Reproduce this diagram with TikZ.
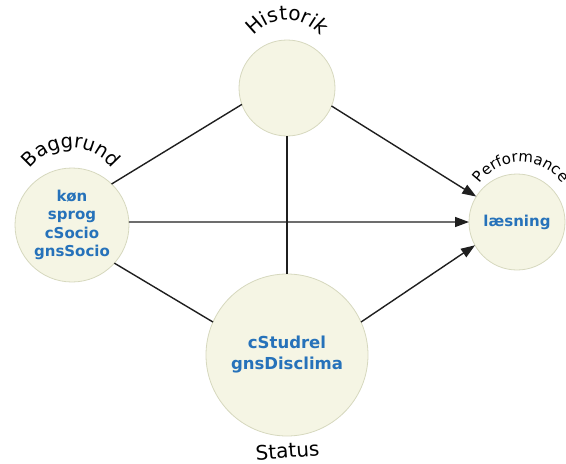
\documentclass[tikz,border=0pt]{standalone}
\usepackage{fontspec}
\setmainfont{DejaVu Sans}
\usetikzlibrary{arrows.meta,decorations.text,calc}
\definecolor{circfill}{RGB}{245,245,228}
\definecolor{circline}{RGB}{214,216,190}
\definecolor{txtblue}{RGB}{38,114,186}
\begin{document}
\begin{tikzpicture}[x=1pt,y=1pt,
  blob/.style={circle, fill=circfill, draw=circline, line width=0.8pt, inner sep=0pt, outer sep=0pt, align=center, text=txtblue, font=\bfseries\fontsize{15}{18.5}\selectfont},
  link/.style={draw=black!88, line width=1.4pt},
  arr/.style={link, -{Triangle[length=14pt,width=10pt]}},
  arclabel/.style={decorate, decoration={text along path, text align=center, text={#1}}}
  ]
\useasboundingbox (0,0) rectangle (566,-464);
\node[blob, minimum size=114pt] (B) at (72,-225) {køn\\sprog\\cSocio\\gnsSocio};
\node[blob, minimum size=96pt] (H) at (287,-88) {};
\node[blob, minimum size=96pt] (P) at (517,-222) {læsning};
\node[blob, minimum size=162pt, font=\bfseries\fontsize{16.5}{21}\selectfont] (S) at (287,-355) {cStudrel\\gnsDisclima};
% connectors
\draw[link] (B.46) -- (H.200);
\draw[arr] (H.338) -- (P.148);
\draw[arr] (B.3) -- (P.180);
\draw[link] (B.318) -- (S.156);
\draw[arr] (S.24) -- (P.209);
\draw[link] (H.270) -- (S.90);
% curved labels
\path[arclabel={|\fontsize{20}{20}\selectfont|Historik}] (287pt,-62pt) ++(170:42pt) arc[start angle=170, end angle=10, radius=42pt];
\path[arclabel={|\fontsize{19.5}{19.5}\selectfont|Baggrund}] (71pt,-200pt) ++(170:52pt) arc[start angle=170, end angle=10, radius=52pt];
\path[arclabel={|\fontsize{15}{15}\selectfont|Performance}] (521pt,-212pt) ++(170:50pt) arc[start angle=170, end angle=10, radius=50pt];
\node[anchor=base, rotate=4, font=\fontsize{20}{20}\selectfont, inner sep=0pt] (st) at (288,-458) {Status};
\end{tikzpicture}
\end{document}
